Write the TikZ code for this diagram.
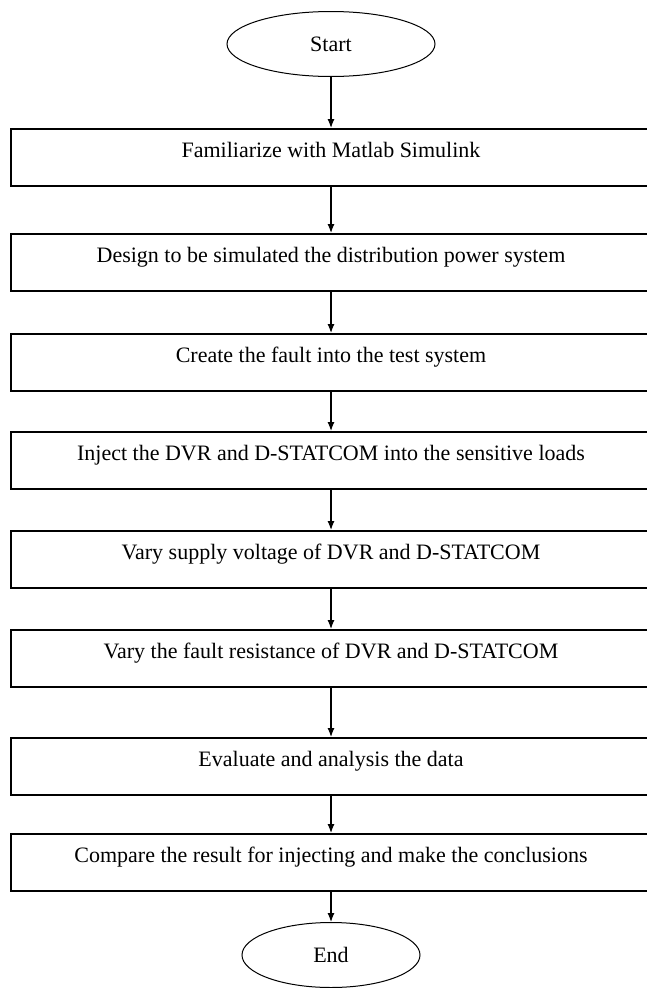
\documentclass[tikz,border=0pt]{standalone}
\usepackage{fontspec}
\setmainfont{Liberation Serif}
\usetikzlibrary{shapes.geometric,arrows.meta}
\tikzset{
  stepbox/.style={draw, line width=1.5pt, rectangle, inner sep=0pt, anchor=north,
    minimum width=640pt, text height=29pt, text depth=28pt,
    font=\fontsize{22}{26}\selectfont},
  termnode/.style={draw, line width=1pt, ellipse, inner sep=0pt,
    font=\fontsize{22}{26}\selectfont},
  flow/.style={line width=1.2pt, -{Latex[length=9pt,width=7pt]}}
}
\begin{document}
\begin{tikzpicture}[x=1pt,y=-1pt]
\fill[white] (0,0) rectangle (647,988);
\useasboundingbox (0,0) rectangle (647,988);
\node[termnode, minimum width=208pt, minimum height=65pt] (start) at (331,44) {Start};
\node[stepbox] (b1) at (331,128) {Familiarize with Matlab Simulink};
\node[stepbox] (b2) at (331,233) {Design to be simulated the distribution power system};
\node[stepbox] (b3) at (331,333) {Create the fault into the test system};
\node[stepbox] (b4) at (331,431) {Inject the DVR and D-STATCOM into the sensitive loads};
\node[stepbox] (b5) at (331,530) {Vary supply voltage of DVR and D-STATCOM};
\node[stepbox] (b6) at (331,629) {Vary the fault resistance of DVR and D-STATCOM};
\node[stepbox] (b7) at (331,737) {Evaluate and analysis the data};
\node[stepbox] (b8) at (331,833) {Compare the result for injecting and make the conclusions};
\node[termnode, minimum width=178pt, minimum height=65pt] (end) at (331,955) {End};
\draw[flow] (start) -- (b1);
\draw[flow] (b1) -- (b2);
\draw[flow] (b2) -- (b3);
\draw[flow] (b3) -- (b4);
\draw[flow] (b4) -- (b5);
\draw[flow] (b5) -- (b6);
\draw[flow] (b6) -- (b7);
\draw[flow] (b7) -- (b8);
\draw[flow] (b8) -- (end);
\end{tikzpicture}
\end{document}
